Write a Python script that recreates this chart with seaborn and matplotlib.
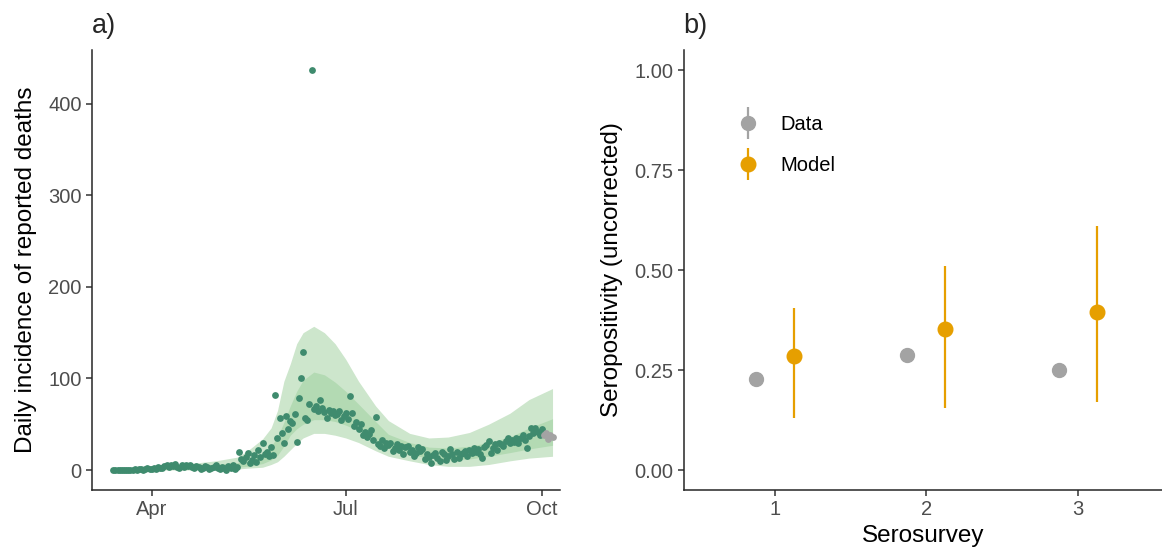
import pandas as pd
import numpy as np
import matplotlib
matplotlib.use("Agg")
import matplotlib.pyplot as plt
import matplotlib.dates as mdates
from matplotlib.legend_handler import HandlerErrorbar
import seaborn as sns

# ---- panel a: daily reported deaths (Mar 14 - Oct 1) ----
deaths_mar = [0, 0, 0, 0, 0, 0, 0, 0, 0, 0, 1, 0, 1, 1, 0, 1, 2, 1]
deaths_apr = [1, 2, 1, 3, 2, 2, 4, 5, 3, 6, 4, 7, 3, 2, 5, 3, 6, 4, 5, 3,
              2, 4, 3, 1, 2, 4, 3, 1, 2, 3]
deaths_may = [5, 2, 1, 3, 2, 0, 4, 2, 5, 1, 3, 20, 12, 10, 14, 19, 8, 11, 16, 9,
              22, 14, 30, 18, 20, 15, 25, 16, 82, 35, 57]
deaths_jun = [40, 30, 59, 45, 54, 51, 61, 31, 79, 101, 129, 57, 55, 72, 437, 67,
              70, 65, 77, 68, 63, 57, 66, 62, 65, 60, 61, 64, 55, 59]
deaths_jul = [62, 56, 81, 62, 48, 52, 45, 50, 38, 41, 36, 39, 44, 33, 58, 28, 26,
              33, 24, 30, 27, 29, 21, 24, 28, 22, 26, 18, 25, 26, 20]
deaths_aug = [22, 15, 19, 25, 21, 23, 12, 17, 14, 8, 16, 19, 13, 10, 20, 17, 11,
              15, 23, 18, 12, 20, 13, 17, 19, 21, 15, 22, 19, 24, 20]
deaths_sep = [23, 18, 13, 25, 27, 32, 19, 24, 28, 22, 30, 28, 26, 32, 35, 29, 33,
              31, 35, 30, 35, 38, 33, 24, 37, 46, 40, 46, 42, 38]
deaths_oct = [45]
recent_deaths = [38, 40, 34, 38, 36]  # grey, not used in fit (Oct 2 - Oct 6)

# model credible intervals
ribbon_dates = ["2020-03-14", "2020-04-01", "2020-04-19", "2020-05-01", "2020-05-11",
                "2020-05-16", "2020-05-23", "2020-05-27", "2020-05-30", "2020-06-02",
                "2020-06-05", "2020-06-08", "2020-06-11", "2020-06-16", "2020-06-21",
                "2020-06-26", "2020-07-01", "2020-07-07", "2020-07-15", "2020-07-21",
                "2020-07-31", "2020-08-09", "2020-08-18", "2020-08-28", "2020-09-06",
                "2020-09-16", "2020-09-25", "2020-10-06"]
upper_95 = [1, 3, 7, 10, 14, 21, 34, 46, 65, 97, 116, 138, 150, 157, 150, 138, 121,
            97, 70, 54, 40, 35, 36, 41, 50, 62, 77, 89]
lower_95 = [0, 0, 0, 0, 1, 2, 3, 6, 9, 15, 22, 29, 35, 40, 40, 38, 35, 30, 21, 15,
            10, 6, 4, 4, 6, 10, 13, 15]
upper_50 = [0.5, 2, 4, 6, 8, 11, 18, 26, 36, 52, 70, 86, 98, 107, 104, 96, 86, 72,
            53, 39, 30, 25, 24, 26, 30, 36, 46, 56]
lower_50 = [0, 0.5, 1, 2, 3, 4, 7, 11, 16, 26, 38, 45, 50, 55, 55, 53, 49, 43, 32,
            24, 17, 13, 11, 12, 15, 19, 23, 27]

# ---- panel b: serosurveys ----
serosurvey = [1, 2, 3]
data_mean = [0.228, 0.287, 0.251]
data_lo = [0.220, 0.279, 0.243]
data_hi = [0.236, 0.295, 0.259]
model_mean = [0.284, 0.353, 0.396]
model_lo = [0.130, 0.155, 0.170]
model_hi = [0.406, 0.509, 0.611]

GREEN = "#3F8B6E"
OUTER = "#CDE6CC"
INNER = "#B3DAB3"
GREY = "#A3A3A3"
ORANGE = "#E69F00"

sns.set_theme(style="ticks")
plt.rcParams["font.family"] = ["Liberation Sans", "DejaVu Sans"]
plt.rcParams["axes.linewidth"] = 1.1
plt.rcParams["xtick.major.width"] = 1.1
plt.rcParams["ytick.major.width"] = 1.1
plt.rcParams["xtick.major.size"] = 4
plt.rcParams["ytick.major.size"] = 4

deaths = deaths_mar + deaths_apr + deaths_may + deaths_jun + deaths_jul + deaths_aug + deaths_sep + deaths_oct
df_deaths = pd.DataFrame({
    "date": pd.date_range("2020-03-14", periods=len(deaths), freq="D"),
    "deaths": deaths,
})
df_recent = pd.DataFrame({
    "date": pd.date_range(df_deaths["date"].iloc[-1] + pd.Timedelta(days=1),
                          periods=len(recent_deaths), freq="D"),
    "deaths": recent_deaths,
})
df_ribbon = pd.DataFrame({
    "date": pd.to_datetime(ribbon_dates),
    "lo95": lower_95, "hi95": upper_95, "lo50": lower_50, "hi50": upper_50,
})

W, H = 1162, 554
fig = plt.figure(figsize=(W / 100, H / 100), dpi=100)
ax1 = fig.add_axes([92 / W, 1 - 490 / H, (560 - 92) / W, 440 / H])
ax2 = fig.add_axes([684 / W, 1 - 490 / H, (1162 - 684) / W, 440 / H])

# panel a
ax1.fill_between(df_ribbon["date"], df_ribbon["lo95"], df_ribbon["hi95"], color=OUTER, lw=0)
ax1.fill_between(df_ribbon["date"], df_ribbon["lo50"], df_ribbon["hi50"], color=INNER, lw=0)
sns.scatterplot(data=df_deaths, x="date", y="deaths", color=GREEN, s=24,
                linewidth=0, ax=ax1)
sns.scatterplot(data=df_recent, x="date", y="deaths", color=GREY, s=24,
                linewidth=0, ax=ax1)
ax1.set_xlim(pd.Timestamp("2020-03-04"), pd.Timestamp("2020-10-09 12:00"))
ax1.set_ylim(-21.85, 458.85)
ax1.set_yticks([0, 100, 200, 300, 400])
ax1.set_xticks(pd.to_datetime(["2020-04-01", "2020-07-01", "2020-10-01"]))
ax1.xaxis.set_major_formatter(mdates.DateFormatter("%b"))
ax1.set_xlabel("")
ax1.set_ylabel("Daily incidence of reported deaths", fontsize=17.5, color="black", labelpad=8)

# panel b
off = 0.125
xd = [s - off for s in serosurvey]
xm = [s + off for s in serosurvey]
h_data = ax2.errorbar(xd, data_mean,
                      yerr=[np.subtract(data_mean, data_lo), np.subtract(data_hi, data_mean)],
                      fmt="o", color=GREY, ms=10, elinewidth=1.6, capsize=0, label="Data")
h_model = ax2.errorbar(xm, model_mean,
                       yerr=[np.subtract(model_mean, model_lo), np.subtract(model_hi, model_mean)],
                       fmt="o", color=ORANGE, ms=10.5, elinewidth=1.6, capsize=0, label="Model")
ax2.set_xlim(0.4, 3.555)
ax2.set_ylim(-0.05, 1.05)
ax2.set_xticks(serosurvey)
ax2.set_yticks([0, 0.25, 0.5, 0.75, 1.0])
ax2.set_yticklabels(["0.00", "0.25", "0.50", "0.75", "1.00"])
ax2.set_xlabel("Serosurvey", fontsize=17.5, color="black", labelpad=4)
ax2.set_ylabel("Seropositivity (uncorrected)", fontsize=17.5, color="black", labelpad=8)
leg = ax2.legend(handles=[h_data, h_model], loc="upper left", bbox_to_anchor=(0.07, 0.893),
                 frameon=False, fontsize=14.5, handletextpad=1.0, labelspacing=1.1,
                 handlelength=1.2,
                 handler_map={type(h_data): HandlerErrorbar(yerr_size=0.8)})
for t in leg.get_texts():
    t.set_color("black")

for ax in (ax1, ax2):
    sns.despine(ax=ax)
    ax.tick_params(axis="both", labelsize=14.5, labelcolor="#4D4D4D", color="#333333")

fig.text(92 / W, 1 - 33 / H, "a)", fontsize=19.5, ha="left", va="baseline")
fig.text(683 / W, 1 - 33 / H, "b)", fontsize=19.5, ha="left", va="baseline")

fig.savefig("out.png", dpi=100)
